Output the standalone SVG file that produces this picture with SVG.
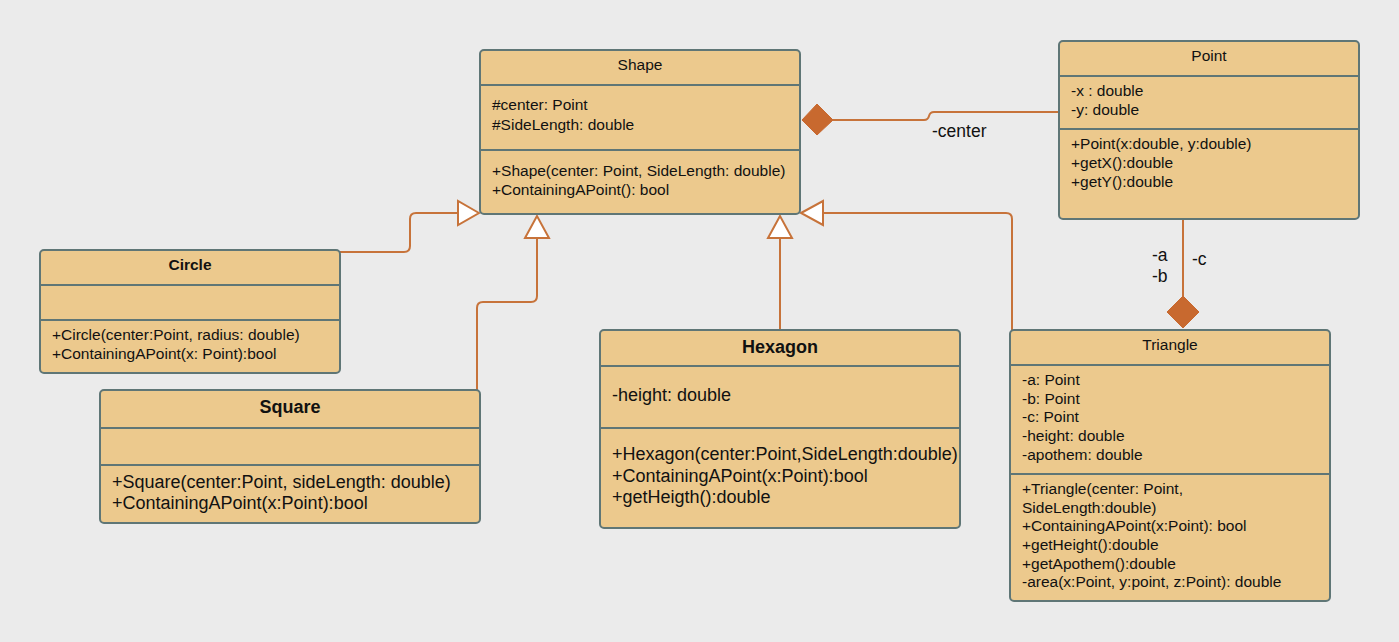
<svg xmlns="http://www.w3.org/2000/svg" width="1399" height="642" viewBox="0 0 1399 642">
<style>
.box{fill:#ECC98D;stroke:#5F7676;stroke-width:2}
.sep{stroke:#5F7676;stroke-width:2}
text{font-family:"Liberation Sans",Arial,sans-serif;fill:#111}
.s{font-size:15.5px}
.l{font-size:18px}
.t{text-anchor:middle}
.b{font-weight:bold}
.lab{font-size:17.5px}
.con{fill:none;stroke:#C7733A;stroke-width:2;stroke-linejoin:round}
.gen{fill:#FFFFFF;stroke:#C7733A;stroke-width:2}
.dia{fill:#C8692F;stroke:#C8692F;stroke-width:1}
</style>
<rect width="1399" height="642" fill="#EBEBEB"/>
<g id="connectors">
  <path class="con" d="M340,252 H404 Q410,252 410,246 V219 Q410,213 416,213 H458"/>
  <polygon class="gen" points="479,213 458,201 458,225"/>
  <path class="con" d="M477,390 V308 Q477,302 483,302 H531 Q537,302 537,296 V238"/>
  <polygon class="gen" points="537,216 525,238 549,238"/>
  <path class="con" d="M780,330 V238"/>
  <polygon class="gen" points="780,216 768,238 792,238"/>
  <path class="con" d="M1012,330 V219 Q1012,213 1006,213 H823"/>
  <polygon class="gen" points="801,213 823,201 823,225"/>
  <path class="con" d="M833,120 H924 Q928,120 929,116 Q930,112 934,112 H1059"/>
  <polygon class="dia" points="802,120 817,104 833,120 817,135"/>
  <path class="con" d="M1183,219 V296"/>
  <polygon class="dia" points="1183,296 1199,312 1183,328 1167,312"/>
  <text class="lab" x="932" y="137">-center</text>
  <text class="lab" x="1152" y="261">-a</text>
  <text class="lab" x="1152" y="282">-b</text>
  <text class="lab" x="1192" y="265">-c</text>
</g>
<g id="Shape">
  <rect class="box" x="480" y="50" width="320" height="164" rx="4"/>
  <line class="sep" x1="480" y1="85" x2="800" y2="85"/>
  <line class="sep" x1="480" y1="150" x2="800" y2="150"/>
  <text class="s t" x="640" y="70">Shape</text>
  <text class="s" x="492" y="110">#center: Point</text>
  <text class="s" x="492" y="130">#SideLength: double</text>
  <text class="s" x="492" y="176">+Shape(center: Point, SideLength: double)</text>
  <text class="s" x="492" y="195">+ContainingAPoint(): bool</text>
</g>
<g id="Point">
  <rect class="box" x="1059" y="41" width="300" height="178" rx="4"/>
  <line class="sep" x1="1059" y1="76" x2="1359" y2="76"/>
  <line class="sep" x1="1059" y1="129" x2="1359" y2="129"/>
  <text class="s t" x="1209" y="61">Point</text>
  <text class="s" x="1071" y="96">-x : double</text>
  <text class="s" x="1071" y="115">-y: double</text>
  <text class="s" x="1071" y="149">+Point(x:double, y:double)</text>
  <text class="s" x="1071" y="168">+getX():double</text>
  <text class="s" x="1071" y="187">+getY():double</text>
</g>
<g id="Circle">
  <rect class="box" x="40" y="250" width="300" height="123" rx="4"/>
  <line class="sep" x1="40" y1="285" x2="340" y2="285"/>
  <line class="sep" x1="40" y1="320" x2="340" y2="320"/>
  <text class="s t b" x="190" y="270">Circle</text>
  <text class="s" x="52" y="340">+Circle(center:Point, radius: double)</text>
  <text class="s" x="52" y="359">+ContainingAPoint(x: Point):bool</text>
</g>
<g id="Square">
  <rect class="box" x="100" y="390" width="380" height="133" rx="4"/>
  <line class="sep" x1="100" y1="428" x2="480" y2="428"/>
  <line class="sep" x1="100" y1="465" x2="480" y2="465"/>
  <text class="l t b" x="290" y="413">Square</text>
  <text class="l" x="112" y="488">+Square(center:Point, sideLength: double)</text>
  <text class="l" x="112" y="509">+ContainingAPoint(x:Point):bool</text>
</g>
<g id="Hexagon">
  <rect class="box" x="600" y="330" width="360" height="198" rx="4"/>
  <line class="sep" x1="600" y1="366" x2="960" y2="366"/>
  <line class="sep" x1="600" y1="428" x2="960" y2="428"/>
  <text class="l t b" x="780" y="353">Hexagon</text>
  <text class="l" x="612" y="401">-height: double</text>
  <text class="l" x="612" y="460">+Hexagon(center:Point,SideLength:double)</text>
  <text class="l" x="612" y="482">+ContainingAPoint(x:Point):bool</text>
  <text class="l" x="612" y="503">+getHeigth():double</text>
</g>
<g id="Triangle">
  <rect class="box" x="1010" y="330" width="320" height="271" rx="4"/>
  <line class="sep" x1="1010" y1="365" x2="1330" y2="365"/>
  <line class="sep" x1="1010" y1="474" x2="1330" y2="474"/>
  <text class="s t" x="1170" y="350">Triangle</text>
  <text class="s" x="1022" y="385">-a: Point</text>
  <text class="s" x="1022" y="404">-b: Point</text>
  <text class="s" x="1022" y="422">-c: Point</text>
  <text class="s" x="1022" y="441">-height: double</text>
  <text class="s" x="1022" y="460">-apothem: double</text>
  <text class="s" x="1022" y="494">+Triangle(center: Point,</text>
  <text class="s" x="1022" y="513">SideLength:double)</text>
  <text class="s" x="1022" y="531">+ContainingAPoint(x:Point): bool</text>
  <text class="s" x="1022" y="550">+getHeight():double</text>
  <text class="s" x="1022" y="569">+getApothem():double</text>
  <text class="s" x="1022" y="587">-area(x:Point, y:point, z:Point): double</text>
</g>
</svg>
